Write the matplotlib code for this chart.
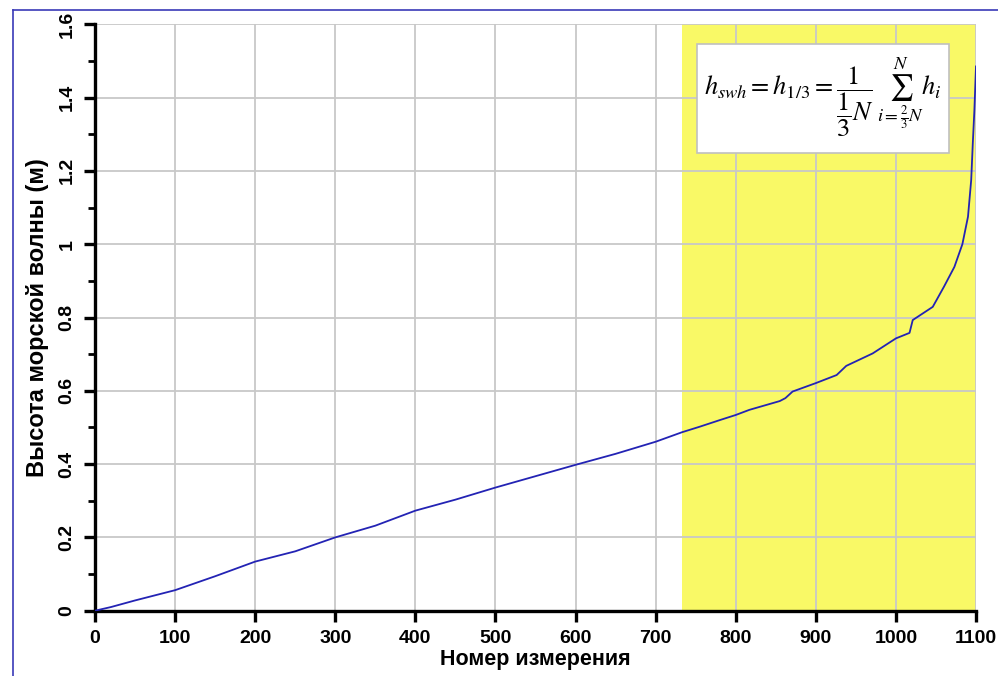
import matplotlib.pyplot as plt
from matplotlib.lines import Line2D
from matplotlib.patches import Rectangle
from matplotlib.ticker import MultipleLocator, FuncFormatter

# отсортированные высоты волн по номеру измерения
nomer = [0, 20, 50, 100, 150, 200, 250, 300, 350, 400, 450, 500, 550, 600,
         650, 700, 733, 755, 780, 800, 817, 855, 862, 871, 900, 926, 938,
         971, 1000, 1017, 1021, 1046, 1060, 1073, 1083, 1090, 1094, 1096,
         1098, 1100]
vysota = [0.0, 0.01, 0.028, 0.056, 0.094, 0.134, 0.162, 0.2, 0.232, 0.273,
          0.303, 0.336, 0.367, 0.398, 0.428, 0.461, 0.487, 0.502, 0.52,
          0.534, 0.548, 0.572, 0.58, 0.598, 0.621, 0.643, 0.668, 0.702,
          0.743, 0.758, 0.793, 0.829, 0.884, 0.938, 1.0, 1.075, 1.175,
          1.275, 1.366, 1.485]

N = 1100
x_ticks = list(range(0, 1101, 100))
formula = r'$h_{swh}=h_{1/3}=\dfrac{1}{\dfrac{1}{3}N}\,\sum_{i=\frac{2}{3}N}^{N}h_i$'

plt.rcParams['font.family'] = ['Liberation Sans', 'DejaVu Sans']
plt.rcParams['mathtext.fontset'] = 'stix'

fig = plt.figure(figsize=(9.98, 6.76), dpi=100)
ax = fig.add_axes([95 / 998, 65.3 / 676, 881 / 998, 586.4 / 676])

# верхняя треть выборки
ax.axvspan(2 * N / 3, N, color='#f9f966', zorder=0.2, lw=0)

ax.plot(nomer, vysota, color='#2323b4', lw=1.3, zorder=3)

ax.set_xlim(0, 1100)
ax.set_ylim(0, 1.6)
ax.set_xticks(x_ticks)
ax.yaxis.set_major_locator(MultipleLocator(0.2))
ax.yaxis.set_minor_locator(MultipleLocator(0.1))
ax.yaxis.set_major_formatter(FuncFormatter(lambda v, p: '%g' % round(v, 2)))
ax.grid(True, which='major', color='#c8c8c8', lw=1.3)
ax.set_axisbelow(True)

for s in ['top', 'right']:
    ax.spines[s].set_visible(False)
for s in ['left', 'bottom']:
    ax.spines[s].set_linewidth(2.4)

ax.tick_params(which='major', direction='out', length=8, width=2.4,
               labelsize=14, pad=6)
ax.tick_params(which='minor', direction='out', length=5, width=2.0)
for lab in ax.get_xticklabels():
    lab.set_fontweight('bold')
for lab in ax.get_yticklabels():
    lab.set_fontweight('bold')
    lab.set_rotation(90)
    lab.set_va('center')

ax.set_xlabel('Номер измерения', fontsize=15.5, fontweight='bold', labelpad=1)
ax.set_ylabel('Высота морской волны (м)', fontsize=17, fontweight='bold',
              labelpad=7)

# рамка с формулой
ax.add_patch(Rectangle((752, 1.249), 314, 0.297, facecolor='white',
                       edgecolor='#c0c0c0', lw=1.2, zorder=4))
ax.text(908, 1.40, formula, fontsize=19, ha='center', va='center', zorder=5)

# рамка окна
fig.add_artist(Line2D([13 / 998, 13 / 998], [0, 666 / 676], color='#3a3ab8', lw=1.2))
fig.add_artist(Line2D([13 / 998, 1], [666 / 676, 666 / 676], color='#3a3ab8', lw=1.2))

fig.savefig('out.png', dpi=100)
